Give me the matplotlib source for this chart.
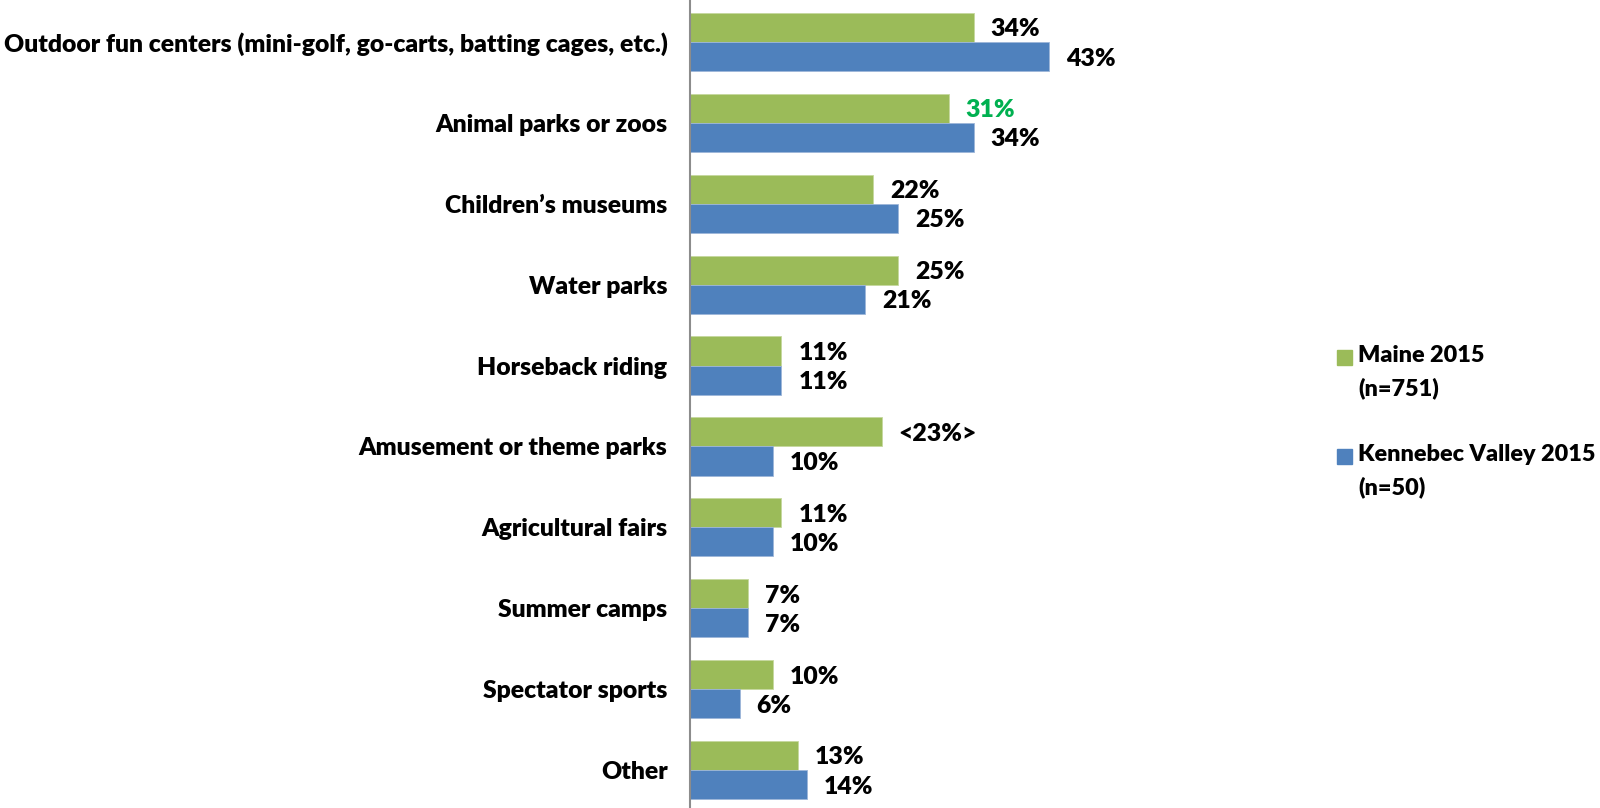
import matplotlib.pyplot as plt
from matplotlib.patches import Rectangle
import numpy as np

plt.rcParams['font.family'] = ['Lato', 'DejaVu Sans']

categories = ['Outdoor fun centers (mini-golf, go-carts, batting cages, etc.)',
              'Animal parks or zoos',
              'Children\u2019s museums',
              'Water parks',
              'Horseback riding',
              'Amusement or theme parks',
              'Agricultural fairs',
              'Summer camps',
              'Spectator sports',
              'Other']
maine = [34, 31, 22, 25, 11, 23, 11, 7, 10, 13]
kennebec = [43, 34, 25, 21, 11, 10, 10, 7, 6, 14]
maine_labels = ['34%', '31%', '22%', '25%', '11%', '<23%>', '11%', '7%', '10%', '13%']
kennebec_labels = ['43%', '34%', '25%', '21%', '11%', '10%', '10%', '7%', '6%', '14%']
series_names = ['Maine 2015\n(n=751)', 'Kennebec Valley 2015\n(n=50)']

green = '#9BBB59'
blue = '#4F81BD'
fs = 17.8
fw = 'heavy'

fig = plt.figure(figsize=(16, 8.08), dpi=100)
ax = fig.add_axes([0.431, 0.0, 0.261, 1.0])

y = np.arange(len(categories))
h = 0.36
ax.barh(y - h / 2, maine, height=h, color=green, edgecolor='#c5d89e', linewidth=0.6)
ax.barh(y + h / 2, kennebec, height=h, color=blue, edgecolor='#9db6d9', linewidth=0.6)

for i in range(len(categories)):
    c = '#00B050' if i == 1 else 'black'
    ax.annotate(maine_labels[i], (maine[i], y[i] - h / 2), xytext=(17, -2),
                textcoords='offset pixels', va='center', ha='left',
                fontsize=fs, fontweight=fw, color=c)
    ax.annotate(kennebec_labels[i], (kennebec[i], y[i] + h / 2), xytext=(17, -2),
                textcoords='offset pixels', va='center', ha='left',
                fontsize=fs, fontweight=fw, color='black')

ax.set_xlim(0, 50)
ax.set_ylim(9.47, -0.52)
ax.set_yticks(y)
ax.set_yticklabels(categories, fontsize=fs, fontweight=fw)
ax.tick_params(axis='y', length=0, pad=16)
ax.set_xticks([])
for s in ['top', 'right', 'bottom']:
    ax.spines[s].set_visible(False)
ax.spines['left'].set_color('#8c8c8c')
ax.spines['left'].set_linewidth(1.5)

# legend squares aligned with the first line of each label
for col, name, ypos in [(green, series_names[0], 1 - 358 / 808),
                        (blue, series_names[1], 1 - 457 / 808)]:
    fig.patches.append(Rectangle((1337 / 1600, ypos - 7.5 / 808), 15 / 1600, 15 / 808,
                                 transform=fig.transFigure, color=col))
    fig.text(1358 / 1600, ypos + 13 / 808, name, fontsize=16.8, fontweight=fw,
             va='top', ha='left', linespacing=1.65)

fig.savefig('out.png', dpi=100)
